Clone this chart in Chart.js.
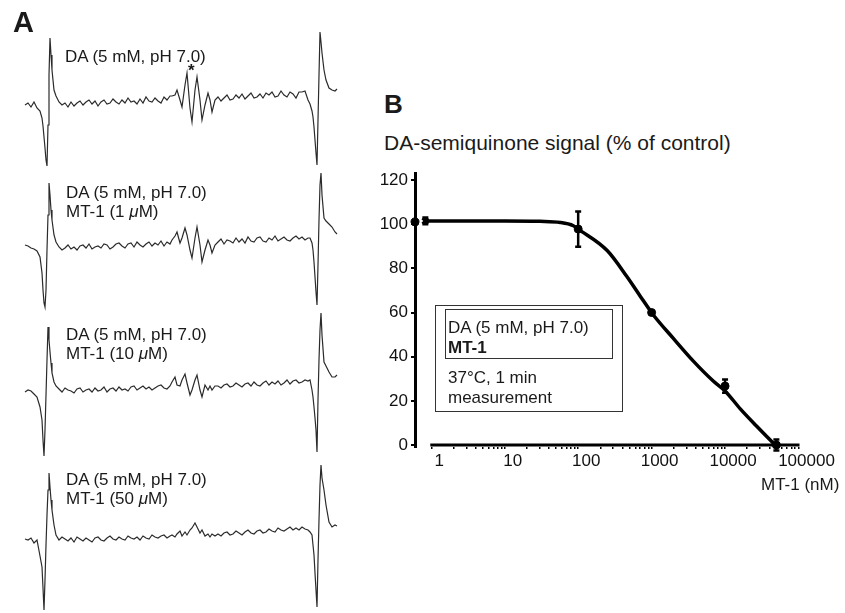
<!DOCTYPE html>
<html lang="en">
<head>
<meta charset="UTF-8">
<title>DA-semiquinone signal and MT-1</title>
<script src="https://cdn.jsdelivr.net/npm/chart.js"></script>
<style>
body, html {
    margin: 0;
    padding: 0;
    width: 845px;
    height: 613px;
    background: #fff;
    overflow: hidden;
    font-family: "Liberation Sans", Arial, Helvetica, sans-serif;
    color: #1a1a1a;
}
canvas { position: absolute; }
#panelA { left: 0; top: 0; }
#panelB { left: 370px; top: 160px; }
.abs { position: absolute; white-space: nowrap; }
.lbl { font-size: 17px; line-height: 19px; }
.box { position: absolute; box-sizing: border-box; border: 1.5px solid #333; }
</style>
</head>
<body>
<canvas id="panelA" width="360" height="613"></canvas>
<canvas id="panelB" width="475" height="340"></canvas>

<div class="abs" style="left:13px; top:8px; font-size:29px; line-height:29px; font-weight:bold;">A</div>
<div class="abs lbl" style="left:65px; top:47px;">DA (5 mM, pH 7.0)</div>
<div class="abs" style="left:188px; top:63px; font-size:17px; line-height:16px; font-weight:bold;">*</div>
<div class="abs lbl" style="left:66px; top:183px;">DA (5 mM, pH 7.0)<br>MT-1 (1 <i>μ</i>M)</div>
<div class="abs lbl" style="left:66px; top:325px;">DA (5 mM, pH 7.0)<br>MT-1 (10 <i>μ</i>M)</div>
<div class="abs lbl" style="left:66px; top:470px;">DA (5 mM, pH 7.0)<br>MT-1 (50 <i>μ</i>M)</div>

<div class="abs" style="left:384px; top:91px; font-size:26px; line-height:26px; font-weight:bold;">B</div>
<div class="abs" style="left:384px; top:132px; font-size:21px; line-height:21px;">DA-semiquinone signal (% of control)</div>
<div class="abs lbl" style="left:761px; top:475px;">MT-1 (nM)</div>

<div class="box" style="left:435px; top:305px; width:188px; height:107px;"></div>
<div class="box" style="left:445px; top:309px; width:168px; height:50px;"></div>
<div class="abs lbl" style="left:448px; top:318px;">DA (5 mM, pH 7.0)</div>
<div class="abs lbl" style="left:448px; top:338px; font-weight:bold;">MT-1</div>
<div class="abs lbl" style="left:448px; top:368px;">37°C, 1 min</div>
<div class="abs lbl" style="left:448px; top:388px;">measurement</div>

<script>
    // ---- Panel A: EPR spectra (field in arbitrary units, amplitude in a.u.) ----
    const fieldA = [0,3,6,9,12,15,
        17,18,19,20,21,22,23,24,25,26,27,
        29,31,
        34,37,40,43,46,49,52,55,58,61,64,67,70,73,76,79,82,85,88,91,94,97,100,103,106,109,112,115,118,121,124,127,130,133,136,139,142,145,
        147,150,152,155,157,160,162,165,167,170,172,175,177,180,183,185,187,190,
        193,196,199,202,205,208,211,214,217,220,223,226,229,232,235,238,241,244,247,250,253,256,259,262,265,268,271,274,277,280,283,
        285,287,288,289,290,291,292,293,294,295,296,297,299,301,304,307,310,312];

    const traceDA = [-2,0,-4,1,-5,-8,
        -15,-23,-34,-45,-57,-63,-22,28,65,48,33,
        13,7,
        1,-2,0,-4,1,-3,0,2,-2,1,3,-1,2,-3,1,3,-1,0,4,1,-1,3,0,5,1,2,-1,4,0,6,2,1,5,2,0,6,3,7,
        7,8,13,3,-4,18,30,-5,-19,13,26,3,-17,-2,10,3,-9,3,
        6,2,5,8,3,4,8,5,9,4,7,10,5,6,9,5,10,8,11,6,7,12,8,6,11,9,5,11,11,12,3,
        -1,-8,-14,-24,-37,-50,-62,-17,28,71,61,50,33,23,15,13,12,14];

    const traceMT1uM = [2,1,-1,-2,-4,-10,
        -26,-43,-56,-60,-43,-3,32,64,52,37,27,
        12,5,
        0,-3,-1,2,-2,0,-3,1,2,-1,3,-2,0,1,-1,3,2,-2,0,3,4,1,-1,3,4,0,5,2,0,3,5,1,4,2,6,1,5,3,
        7,11,15,4,9,19,12,-3,-11,9,20,2,-15,-3,7,2,-6,2,
        5,8,3,7,6,4,9,5,8,4,10,6,5,9,10,6,5,9,7,11,6,8,10,7,6,9,11,8,10,7,9,
        9,4,-3,-15,-30,-45,-58,-18,27,62,74,52,29,26,23,20,15,13];

    const traceMT10uM = [-2,0,-1,-4,-7,-17,
        -30,-50,-66,-40,-5,30,63,50,38,27,17,
        8,4,
        1,-2,2,0,-1,-3,1,2,-2,0,1,-2,2,-1,0,3,-2,1,2,-1,3,0,1,-1,3,4,0,2,4,1,3,0,2,4,5,2,1,4,
        8,13,5,4,10,16,7,-5,0,10,15,0,-7,5,0,4,0,4,
        4,2,5,6,3,4,7,5,3,6,7,4,8,5,4,7,9,5,8,6,9,5,7,10,6,9,10,7,8,10,9,
        10,0,-7,-17,-28,-40,-62,-10,30,60,77,55,28,24,18,13,13,15];

    const traceMT50uM = [0,-1,1,-4,-1,-17,
        -28,-49,-71,-41,-6,24,49,66,52,39,29,
        14,4,
        -1,2,0,-2,1,-3,2,0,-2,1,-1,-3,1,2,-1,-2,1,3,0,-1,2,0,-1,3,1,0,2,-1,3,1,0,4,2,1,3,4,1,3,
        4,2,5,8,3,7,4,9,11,16,12,6,9,3,5,2,5,3,
        5,3,6,7,4,5,8,6,4,7,9,6,5,8,9,6,7,10,8,7,11,9,8,10,12,9,11,9,12,10,9,
        7,4,-6,-16,-34,-51,-68,-21,19,54,74,61,49,34,17,12,14,13];

    // ---- Panel B: dose-response ----
    const fitDose   = [0.85, 3, 10, 30, 57, 86, 100, 250, 460, 700, 1050, 1950, 3700, 6900, 10000, 16000, 27000, 48000];
    const fitSignal = [101.5, 101.5, 101.5, 101.3, 100.8, 99.3, 97.8, 88, 76.3, 67.4, 59, 48.5, 38, 29, 24.5, 16.5, 8.5, 0];

    const obsDose   = [0.6, 0.83, 100, 1000, 10000, 50000];   // first one = control, drawn on the y axis
    const obsSignal = [101, 101.5, 97.8, 60, 26.7, 0];
    const obsErr    = [0, 1.5, 8, 0, 3, 2.5];
    const obsMarker = ['circle', 'crossRot', 'circle', 'circle', 'circle', 'circle'];

    const yTickValues = [0, 10, 20, 30, 40, 50, 60, 70, 80, 90, 100, 110, 120];
    const yTickLabels = [0, 20, 40, 60, 80, 100, 120];
    const doseTickLabels = ['1', '10', '100', '1000', '10000', '100000'];

    Chart.defaults.font.family = '"Liberation Sans", Arial, Helvetica, sans-serif';
    Chart.defaults.color = '#111';

    const toXY = (xs, ys) => xs.map((v, i) => ({ x: v, y: ys[i] }));

    // each spectrum gets its own hidden y scale; max = where its zero line sits
    function traceAxis(zeroPx) {
        return { display: false, min: zeroPx - 613, max: zeroPx };
    }
    function traceSet(values, axisId) {
        return {
            data: toXY(fieldA, values),
            yAxisID: axisId,
            showLine: true,
            borderColor: '#2b2b2b',
            borderWidth: 1.2,
            pointRadius: 0,
            tension: 0,
            clip: false
        };
    }

    new Chart(document.getElementById('panelA'), {
        type: 'scatter',
        data: {
            datasets: [
                traceSet(traceDA, 'y1'),
                traceSet(traceMT1uM, 'y2'),
                traceSet(traceMT10uM, 'y3'),
                traceSet(traceMT50uM, 'y4')
            ]
        },
        options: {
            responsive: false,
            animation: false,
            layout: { padding: 0 },
            plugins: { legend: { display: false }, tooltip: { enabled: false } },
            scales: {
                x: { type: 'linear', display: false, min: -25, max: 335 },
                y1: traceAxis(103),
                y2: traceAxis(247),
                y3: traceAxis(390),
                y4: traceAxis(539)
            }
        }
    });

    // x axis line (only 1..100000) and error bars
    const axisAndBars = {
        id: 'axisAndBars',
        beforeDatasetsDraw(chart) {
            const { ctx, scales: { x, y } } = chart;
            const y0 = y.getPixelForValue(0);
            ctx.save();
            ctx.strokeStyle = '#000';
            ctx.lineWidth = 3;
            ctx.beginPath();
            ctx.moveTo(x.getPixelForValue(1) - 1, y0);
            ctx.lineTo(x.getPixelForValue(100000) + 1, y0);
            ctx.stroke();
            ctx.restore();
        },
        afterDatasetsDraw(chart) {
            const { ctx, scales: { x, y } } = chart;
            ctx.save();
            ctx.strokeStyle = '#000';
            ctx.lineWidth = 2.5;
            obsDose.forEach((d, i) => {
                if (!obsErr[i]) return;
                const px = x.getPixelForValue(d);
                const top = y.getPixelForValue(obsSignal[i] + obsErr[i]);
                const bot = y.getPixelForValue(obsSignal[i] - obsErr[i]);
                ctx.beginPath();
                ctx.moveTo(px, top); ctx.lineTo(px, bot);
                ctx.moveTo(px - 3, top); ctx.lineTo(px + 3, top);
                ctx.moveTo(px - 3, bot); ctx.lineTo(px + 3, bot);
                ctx.stroke();
            });
            ctx.restore();
        }
    };

    const minorDoseTicks = [];
    doseTickLabels.forEach((lab, k) => {
        const base = Number(lab);
        const top = k === doseTickLabels.length - 1 ? 1 : 9;
        for (let m = 1; m <= top; m++) minorDoseTicks.push(base * m);
    });

    new Chart(document.getElementById('panelB'), {
        type: 'scatter',
        data: {
            datasets: [
                {
                    data: toXY(fitDose, fitSignal),
                    showLine: true,
                    borderColor: '#000',
                    borderWidth: 3.5,
                    pointRadius: 0,
                    cubicInterpolationMode: 'monotone',
                    clip: false
                },
                {
                    data: toXY(obsDose, obsSignal),
                    showLine: false,
                    pointStyle: obsMarker,
                    pointRadius: 4,
                    pointBorderWidth: [1, 3, 1, 1, 1, 1],
                    backgroundColor: '#000',
                    borderColor: '#000',
                    clip: false
                }
            ]
        },
        options: {
            responsive: false,
            animation: false,
            layout: { padding: { left: 0, top: 8, right: 46.5, bottom: 13 } },
            plugins: { legend: { display: false }, tooltip: { enabled: false } },
            scales: {
                x: {
                    type: 'logarithmic',
                    min: 0.6,
                    max: 100000,
                    border: { display: false },
                    grid: { drawOnChartArea: false, tickLength: 2, color: '#000', lineWidth: 1.5 },
                    afterBuildTicks: s => { s.ticks = minorDoseTicks.map(v => ({ value: v })); },
                    afterFit: s => { s.height = 40; s.paddingLeft = 0; s.paddingRight = 0; },
                    ticks: {
                        autoSkip: false,
                        maxRotation: 0,
                        padding: 2,
                        labelOffset: 8,
                        font: { size: 17 },
                        callback: v => doseTickLabels.includes(String(v)) ? String(v) : ''
                    }
                },
                y: {
                    min: -0.9,
                    max: 123.1,
                    border: { display: true, width: 3, color: '#000' },
                    grid: { drawOnChartArea: false, tickLength: 4, color: '#000', lineWidth: 2 },
                    afterBuildTicks: s => { s.ticks = yTickValues.map(v => ({ value: v })); },
                    afterFit: s => { s.width = 45; },
                    ticks: {
                        padding: 3,
                        font: { size: 17 },
                        callback: v => yTickLabels.includes(v) ? String(v) : ''
                    }
                }
            }
        },
        plugins: [axisAndBars]
    });
</script>
</body>
</html>
